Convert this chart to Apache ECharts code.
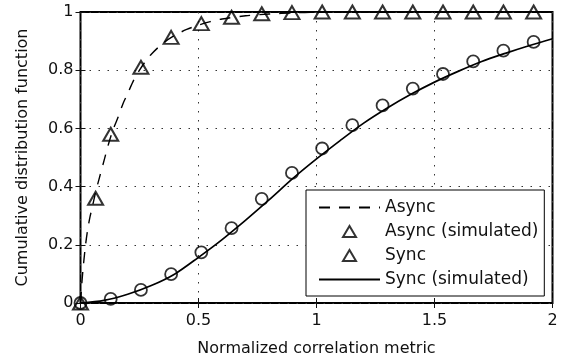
<!DOCTYPE html>
<html>
<head>
<meta charset="utf-8">
<script src="https://cdn.jsdelivr.net/npm/echarts@6/dist/echarts.min.js"></script>
<style>
  html, body { margin: 0; padding: 0; background: #fff; }
  #chart { width: 576px; height: 362px; }
</style>
</head>
<body>
<div id="chart"></div>
<script>
// Async model CDF (dashed curve)
const asyncX = [0, 0.005, 0.01, 0.02, 0.03, 0.04, 0.05, 0.064, 0.08, 0.1, 0.12, 0.14, 0.16, 0.18, 0.2, 0.225, 0.25, 0.275, 0.3, 0.35, 0.4, 0.45, 0.5, 0.55, 0.6, 0.7, 0.8, 0.9, 1.0, 1.2, 2.0];
const asyncY = [0, 0.06, 0.11, 0.19, 0.25, 0.295, 0.33, 0.38, 0.43, 0.49, 0.55, 0.60, 0.64, 0.685, 0.72, 0.765, 0.80, 0.83, 0.855, 0.893, 0.92, 0.94, 0.955, 0.967, 0.976, 0.987, 0.993, 0.997, 0.999, 1, 1];

// Async simulated points (triangles)
const asyncSimX = [0, 0.064, 0.128, 0.256, 0.384, 0.512, 0.64, 0.768, 0.896, 1.024, 1.152, 1.28, 1.408, 1.536, 1.664, 1.792, 1.92];
const asyncSimY = [0, 0.36, 0.58, 0.81, 0.913, 0.96, 0.982, 0.994, 0.998, 1, 1, 1, 1, 1, 1, 1, 1];

// Sync points (circles)
const syncX = [0, 0.128, 0.256, 0.384, 0.512, 0.64, 0.768, 0.896, 1.024, 1.152, 1.28, 1.408, 1.536, 1.664, 1.792, 1.92];
const syncY = [0, 0.014, 0.045, 0.099, 0.174, 0.257, 0.358, 0.447, 0.531, 0.611, 0.679, 0.737, 0.787, 0.83, 0.867, 0.897];

// Sync simulated CDF (solid curve)
const syncSimX = [0, 0.1, 0.2, 0.3, 0.4, 0.5, 0.6, 0.7, 0.8, 0.9, 1.0, 1.1, 1.2, 1.3, 1.4, 1.5, 1.6, 1.7, 1.8, 1.9, 2.0];
const syncSimY = [0, 0.009, 0.03, 0.06, 0.1, 0.157, 0.218, 0.285, 0.355, 0.428, 0.495, 0.558, 0.618, 0.67, 0.717, 0.759, 0.796, 0.83, 0.858, 0.884, 0.908];

const xTicks = [0, 0.5, 1, 1.5, 2];
const yTicks = [0, 0.2, 0.4, 0.6, 0.8, 1];

const zip = (xs, ys) => xs.map((x, i) => [x, ys[i]]);

const FONT = 'DejaVu Sans';
const INK = '#111';

// Legend triangle: the two bare moveTo points span the full legend icon box,
// so the triangle keeps its proportions inside the wide icon slot.
const LEGEND_TRIANGLE = 'path://M0,0 M61,14 M24,12.5 L30.5,1.5 L37,12.5 Z';

const chart = echarts.init(document.getElementById('chart'), null, { renderer: 'canvas' });

const gridDots = { show: true, lineStyle: { color: '#333', width: 1, type: [1.5, 7.5] } };
const tickIn = { show: true, inside: true, length: 5, lineStyle: { color: INK, width: 1 } };
const hollow = { color: 'rgba(0,0,0,0)', borderColor: '#000', borderWidth: 2 };
const noMarker = { opacity: 0 };

chart.setOption({
  animation: false,
  backgroundColor: '#fff',
  grid: {
    left: 80.5, right: 23.5, top: 12, bottom: 57,
    show: true, borderColor: '#000', borderWidth: 2, backgroundColor: 'transparent'
  },
  xAxis: [{
    type: 'value', min: xTicks[0], max: xTicks[xTicks.length - 1], interval: 0.5,
    name: 'Normalized correlation metric', nameLocation: 'middle', nameGap: 38,
    nameTextStyle: { fontFamily: FONT, fontSize: 16, color: INK },
    axisLine: { show: false },
    axisTick: tickIn,
    axisLabel: { fontFamily: FONT, fontSize: 16, color: INK, margin: 10 },
    splitLine: gridDots
  }, {
    type: 'value', position: 'top', min: xTicks[0], max: xTicks[xTicks.length - 1], interval: 0.5,
    axisLine: { show: false }, axisTick: tickIn, axisLabel: { show: false }, splitLine: { show: false }
  }],
  yAxis: [{
    type: 'value', min: yTicks[0], max: yTicks[yTicks.length - 1], interval: 0.2,
    name: 'Cumulative distribution function', nameLocation: 'middle', nameGap: 50,
    nameTextStyle: { fontFamily: FONT, fontSize: 16, color: INK },
    axisLine: { show: false },
    axisTick: tickIn,
    axisLabel: { fontFamily: FONT, fontSize: 16, color: INK, margin: 7,
      formatter: v => String(v) },
    splitLine: gridDots
  }, {
    type: 'value', position: 'right', min: yTicks[0], max: yTicks[yTicks.length - 1], interval: 0.2,
    axisLine: { show: false }, axisTick: tickIn, axisLabel: { show: false }, splitLine: { show: false }
  }],
  legend: {
    orient: 'vertical', left: 306, top: 190,
    padding: [9, 6, 8, 12],
    itemWidth: 61, itemHeight: 14, itemGap: 7,
    backgroundColor: '#fff', borderColor: '#000', borderWidth: 1, borderRadius: 0,
    textStyle: { fontFamily: FONT, fontSize: 17, color: INK },
    data: [
      { name: 'Async', itemStyle: noMarker },
      { name: 'Async (simulated)', icon: LEGEND_TRIANGLE, itemStyle: hollow },
      { name: 'Sync', icon: LEGEND_TRIANGLE, itemStyle: hollow },
      { name: 'Sync (simulated)', itemStyle: noMarker }
    ]
  },
  series: [
    {
      name: 'Async', type: 'line', data: zip(asyncX, asyncY),
      smooth: 0.3, symbol: 'none', z: 2,
      lineStyle: { color: '#000', width: 1.4, type: [11, 9] },
      itemStyle: { color: '#000' }
    },
    {
      name: 'Sync (simulated)', type: 'line', data: zip(syncSimX, syncSimY),
      smooth: 0.3, symbol: 'none', z: 2,
      lineStyle: { color: '#000', width: 1.7, type: 'solid' },
      itemStyle: { color: '#000' }
    },
    {
      name: 'Async (simulated)', type: 'scatter', data: zip(asyncSimX, asyncSimY),
      symbol: 'triangle', symbolSize: [15, 13], z: 3,
      itemStyle: hollow
    },
    {
      name: 'Sync', type: 'scatter', data: zip(syncX, syncY),
      symbol: 'circle', symbolSize: 12, z: 3,
      itemStyle: { color: 'rgba(0,0,0,0)', borderColor: '#000', borderWidth: 1.8 }
    }
  ]
});
</script>
</body>
</html>
